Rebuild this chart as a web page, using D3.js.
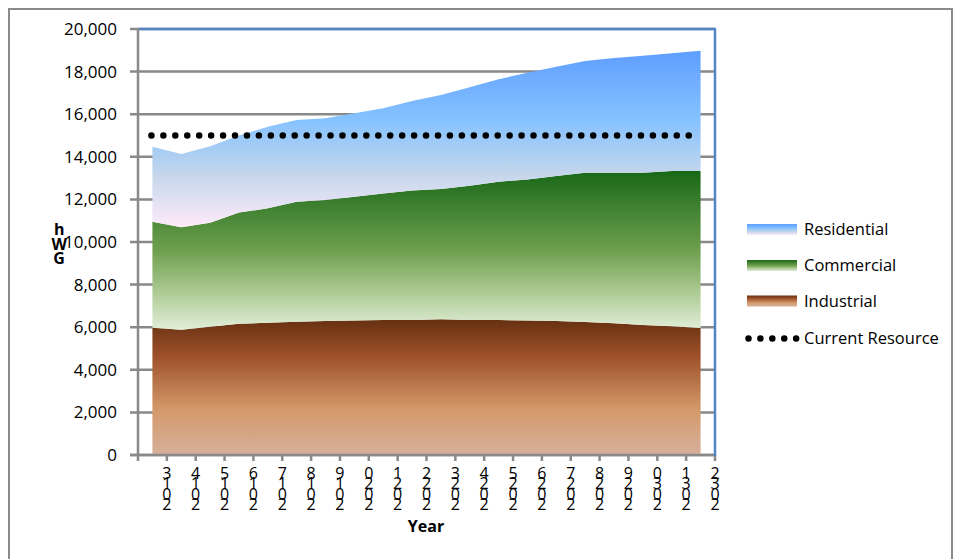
<!DOCTYPE html>
<html>
<head>
<meta charset="utf-8">
<script src="https://cdn.jsdelivr.net/npm/d3@7/dist/d3.min.js"></script>
<style>
  html, body { margin: 0; padding: 0; background: #fff; }
  svg { display: block; font-family: "Open Sans", "DejaVu Sans", sans-serif; }
  .vert { writing-mode: vertical-rl; text-orientation: upright; }
</style>
</head>
<body>
<svg id="chart" width="955" height="559"></svg>
<script>
// 数据（从图上读出，单位 GWh）
var years = d3.range(2013, 2033);
var industrial  = [5980, 5880, 6020, 6160, 6210, 6260, 6290, 6320, 6340, 6340, 6370, 6340, 6340, 6310, 6290, 6240, 6180, 6100, 6040, 5960];
var commercial  = [4970, 4810, 4880, 5220, 5370, 5630, 5680, 5810, 5940, 6080, 6120, 6300, 6490, 6630, 6810, 7010, 7070, 7150, 7290, 7370];
var residential = [3520, 3440, 3600, 3620, 3830, 3840, 3840, 3910, 4000, 4200, 4410, 4620, 4810, 5010, 5130, 5250, 5390, 5500, 5530, 5650];
var currentResource = 15000;
var yTicks = d3.range(0, 20001, 2000);

var seriesKeys = ['industrial', 'commercial', 'residential'];
var legendItems = [
    {key: 'residential', label: 'Residential'},
    {key: 'commercial', label: 'Commercial'},
    {key: 'industrial', label: 'Industrial'},
    {key: 'resource', label: 'Current Resource'}
];

var rows = years.map(function(y, i) {
    return {year: y, industrial: industrial[i], commercial: commercial[i], residential: residential[i]};
});

var svg = d3.select('#chart');

// 渐变（Excel 预设风格）
var defs = svg.append('defs');
var gradients = {
    residential: [[0, '#5e9eff'], [0.39, '#85c2ff'], [0.70, '#c4d6eb'], [1, '#ffebfa']],
    commercial:  [[0, '#186818'], [0.5, '#6e9f4e'], [0.72, '#a3c488'], [1, '#e2eed8']],
    industrial:  [[0, '#663010'], [0.28, '#a0522b'], [0.67, '#d49a6a'], [1, '#d6b09c']]
};
Object.keys(gradients).forEach(function(k) {
    var g = defs.append('linearGradient').attr('id', 'grad-' + k)
        .attr('x1', 0).attr('y1', 0).attr('x2', 0).attr('y2', 1);
    gradients[k].forEach(function(s) {
        g.append('stop').attr('offset', s[0]).attr('stop-color', s[1]);
    });
});

// 外框
svg.append('rect')
    .attr('x', 9).attr('y', 9).attr('width', 943).attr('height', 600)
    .attr('fill', 'none').attr('stroke', '#8a8a8a').attr('stroke-width', 2);

var x = d3.scaleBand().domain(years).range([138, 715]).padding(0);
var y = d3.scaleLinear().domain([0, 20000]).range([455, 29]);
var bw = x.bandwidth();
function cx(d) { return x(d) + bw / 2; }

// 网格线
svg.append('g').selectAll('line')
    .data(yTicks).enter().append('line')
    .attr('x1', 130).attr('x2', 715)
    .attr('y1', function(d) { return y(d); })
    .attr('y2', function(d) { return y(d); })
    .attr('stroke', '#898989').attr('stroke-width', 2.5);

// 堆叠面积
var stacked = d3.stack().keys(seriesKeys)(rows);
var area = d3.area()
    .x(function(d) { return cx(d.data.year); })
    .y0(function(d) { return y(d[0]); })
    .y1(function(d) { return y(d[1]); });

svg.append('g').selectAll('path')
    .data(stacked).enter().append('path')
    .attr('d', area)
    .attr('fill', function(d) { return 'url(#grad-' + d.key + ')'; });

// 当前资源虚线
svg.append('line')
    .attr('x1', cx(years[0]) - 1).attr('x2', cx(years[years.length - 1]))
    .attr('y1', y(currentResource)).attr('y2', y(currentResource))
    .attr('stroke', '#000').attr('stroke-width', 6.5)
    .attr('stroke-linecap', 'round')
    .attr('stroke-dasharray', '0.01 11.93');

// 坐标轴
var axisColor = '#898989';
svg.append('line').attr('x1', 138).attr('x2', 138).attr('y1', 29).attr('y2', 456)
    .attr('stroke', axisColor).attr('stroke-width', 2.5);
svg.append('line').attr('x1', 130).attr('x2', 715).attr('y1', 455).attr('y2', 455)
    .attr('stroke', axisColor).attr('stroke-width', 2.5);

// x 轴刻度
var tickPos = years.map(function(d) { return x(d); }).concat([x.range()[1]]);
svg.append('g').selectAll('line')
    .data(tickPos).enter().append('line')
    .attr('x1', function(d) { return d; }).attr('x2', function(d) { return d; })
    .attr('y1', 455).attr('y2', 461)
    .attr('stroke', axisColor).attr('stroke-width', 2.5);

// y 轴标签
svg.append('g').selectAll('text')
    .data(yTicks).enter().append('text')
    .attr('x', 117).attr('y', function(d) { return y(d); })
    .attr('dy', '0.35em')
    .attr('text-anchor', 'end')
    .attr('font-size', '17px').attr('fill', '#000')
    .text(d3.format(','));

// x 轴标签：竖排、字符倒序
svg.append('g').selectAll('text')
    .data(years).enter().append('text')
    .attr('class', 'vert')
    .attr('x', function(d) { return x(d) + bw; })
    .attr('y', 462)
    .attr('font-size', '16px').attr('fill', '#000')
    .style('letter-spacing', '-11.6px')
    .text(function(d) { return String(d).split('').reverse().join(''); });

// 轴标题
svg.append('text')
    .attr('x', 426).attr('y', 532)
    .attr('text-anchor', 'middle')
    .attr('font-size', '16px').attr('font-weight', 'bold')
    .text('Year');

svg.append('text')
    .attr('class', 'vert')
    .attr('x', 59).attr('y', 218)
    .attr('font-size', '16px').attr('font-weight', 'bold')
    .style('letter-spacing', '-7.3px')
    .text('hWG');

// 绘图区边框（上、右）
svg.append('line').attr('x1', 139).attr('x2', 716).attr('y1', 29).attr('y2', 29)
    .attr('stroke', '#5584c4').attr('stroke-width', 2.5);
svg.append('line').attr('x1', 715).attr('x2', 715).attr('y1', 29).attr('y2', 456)
    .attr('stroke', '#5584c4').attr('stroke-width', 2.5);

// 图例
var legend = svg.append('g').selectAll('g')
    .data(legendItems).enter().append('g')
    .attr('transform', function(d, i) { return 'translate(747,' + [229.5, 265.5, 301, 338.5][i] + ')'; });

legend.each(function(d) {
    var g = d3.select(this);
    if (d.key === 'resource') {
        g.append('line')
            .attr('x1', 1.5).attr('x2', 52).attr('y1', 0).attr('y2', 0)
            .attr('stroke', '#000').attr('stroke-width', 6.5)
            .attr('stroke-linecap', 'round')
            .attr('stroke-dasharray', '0.01 11.9');
    } else {
        g.append('rect')
            .attr('x', 0).attr('y', -5.5).attr('width', 50).attr('height', 11)
            .attr('fill', 'url(#grad-' + d.key + ')');
    }
    g.append('text')
        .attr('x', 57).attr('y', 0).attr('dy', '0.35em')
        .attr('font-size', '16.5px').attr('fill', '#000')
        .text(d.label);
});
</script>
</body>
</html>
